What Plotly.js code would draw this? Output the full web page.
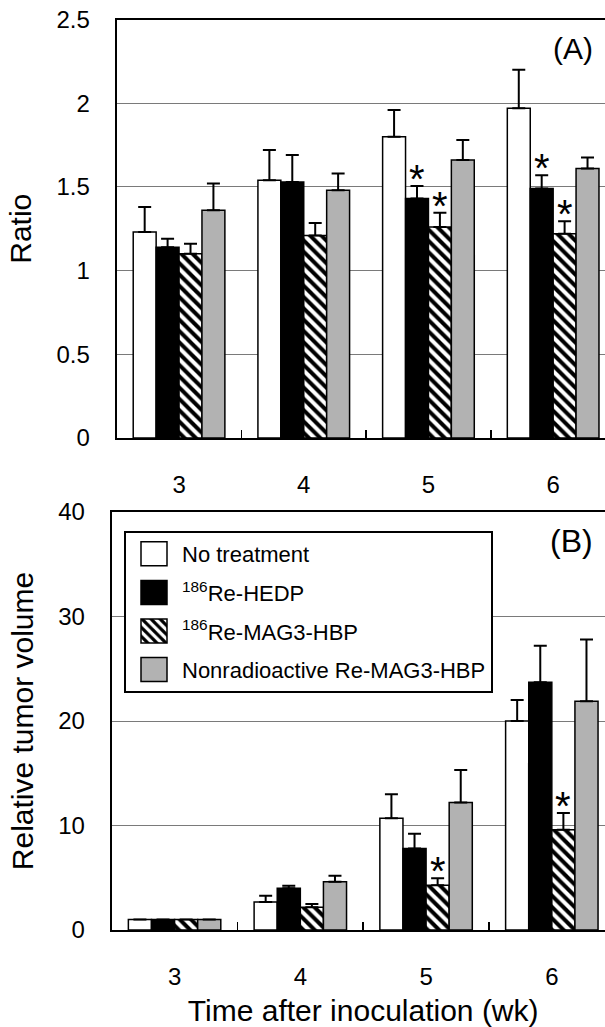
<!DOCTYPE html>
<html><head><meta charset="utf-8">
<script src="https://cdn.plot.ly/plotly-3.0.1.min.js"></script>
<style>html,body{margin:0;padding:0;overflow:hidden;background:#fff;width:605px;height:1027px}#chart{width:620px;height:1027px}</style>
</head><body><div id="chart"></div>
<script>
// Categories (weeks after inoculation)
const weeks = ['3', '4', '5', '6'];
const seriesNames = ['No treatment', '<sup>186</sup>Re-HEDP', '<sup>186</sup>Re-MAG3-HBP', 'Nonradioactive Re-MAG3-HBP'];

// Panel A: Ratio (mean and upper SD)
const ratioNoTreat = [1.23, 1.54, 1.80, 1.97];
const ratioHEDP    = [1.14, 1.53, 1.43, 1.49];
const ratioMAG3    = [1.10, 1.21, 1.26, 1.22];
const ratioNonRad  = [1.36, 1.48, 1.66, 1.61];
const ratioErrNoTreat = [0.15, 0.18, 0.16, 0.23];
const ratioErrHEDP    = [0.05, 0.16, 0.075, 0.08];
const ratioErrMAG3    = [0.06, 0.075, 0.085, 0.075];
const ratioErrNonRad  = [0.16, 0.10, 0.12, 0.065];
// significance markers (*) panel A
const sigRatioHEDP = [false, false, true, true];
const sigRatioMAG3 = [false, false, true, true];

// Panel B: Relative tumor volume
const volNoTreat = [1, 2.68, 10.7, 20.0];
const volHEDP    = [1, 3.99, 7.8, 23.7];
const volMAG3    = [1, 2.17, 4.28, 9.6];
const volNonRad  = [1, 4.62, 12.2, 21.9];
const volErrNoTreat = [0, 0.6, 2.3, 2.0];
const volErrHEDP    = [0, 0.25, 1.4, 3.5];
const volErrMAG3    = [0, 0.32, 0.67, 1.6];
const volErrNonRad  = [0, 0.58, 3.1, 5.9];
// significance markers (*) panel B
const sigVolMAG3 = [false, false, true, true];

const FONT = 'Liberation Sans, Arial, Helvetica, sans-serif';
const W = 620, H = 1027;
const axA = {x0: 116.7, x1: 615.5, y0: 19.5, y1: 438};
const axB = {x0: 111.7, x1: 614.7, y0: 512, y1: 930};
const BARGAP = 0.265;

const styles = [
  {color: 'white'},
  {color: 'black'},
  {color: 'white', pattern: {shape: '\\', fgcolor: 'black', bgcolor: 'white', size: 8, solidity: 0.5, fillmode: 'replace'}},
  {color: '#b2b2b2'}
];

function mkBar(i, vals, errs, xa, ya, showleg) {
  const m = Object.assign({line: {color: 'black', width: 1.5}}, styles[i]);
  return {
    type: 'bar', x: weeks, y: vals, name: seriesNames[i], xaxis: xa, yaxis: ya,
    marker: m, showlegend: showleg, legendgroup: 'g' + i,
    error_y: {type: 'data', array: errs, arrayminus: errs.map(() => 0), symmetric: false,
              color: 'black', thickness: 2, width: 6.5},
    hoverinfo: 'skip'
  };
}

const valsA = [ratioNoTreat, ratioHEDP, ratioMAG3, ratioNonRad];
const errsA = [ratioErrNoTreat, ratioErrHEDP, ratioErrMAG3, ratioErrNonRad];
const valsB = [volNoTreat, volHEDP, volMAG3, volNonRad];
const errsB = [volErrNoTreat, volErrHEDP, volErrMAG3, volErrNonRad];

const data = [];
for (let i = 0; i < 4; i++) data.push(mkBar(i, valsA[i], errsA[i], 'x', 'y', false));
for (let i = 0; i < 4; i++) data.push(mkBar(i, valsB[i], errsB[i], 'x2', 'y2', true));

function barPx(ax) { return (ax.x1 - ax.x0) / weeks.length * (1 - BARGAP) / 4; }

const annotations = [];
function addStars(sig, i, vals, errs, xref, yref, ax) {
  const bw = barPx(ax);
  sig.forEach((s, j) => {
    if (!s) return;
    annotations.push({
      x: j, y: vals[j] + errs[j], xref: xref, yref: yref,
      xshift: (i - 1.5) * bw, yshift: -17, yanchor: 'bottom', xanchor: 'center',
      text: '*', showarrow: false, font: {family: FONT, size: 40, color: 'black'}
    });
  });
}
addStars(sigRatioHEDP, 1, ratioHEDP, ratioErrHEDP, 'x', 'y', axA);
addStars(sigRatioMAG3, 2, ratioMAG3, ratioErrMAG3, 'x', 'y', axA);
addStars(sigVolMAG3, 2, volMAG3, volErrMAG3, 'x2', 'y2', axB);

annotations.push({xref: 'paper', yref: 'paper', x: 595 / W, y: 1 - 49 / H, xanchor: 'right', yanchor: 'middle',
  text: '(A)', showarrow: false, font: {family: FONT, size: 30, color: 'black'}});
annotations.push({xref: 'paper', yref: 'paper', x: 595 / W, y: 1 - 541 / H, xanchor: 'right', yanchor: 'middle',
  text: '(B)', showarrow: false, font: {family: FONT, size: 32, color: 'black'}});

function xAxis(ax, anchor, title) {
  const o = {
    domain: [ax.x0 / W, ax.x1 / W], anchor: anchor, type: 'category', range: [-0.5, 3.5],
    showline: true, linecolor: 'black', linewidth: 2, mirror: true,
    ticks: 'inside', tickson: 'boundaries', ticklen: 8, tickwidth: 1.5, tickcolor: 'black',
    ticklabelstandoff: 24, tickfont: {family: FONT, size: 24, color: 'black'},
    showgrid: false, zeroline: false, automargin: false, fixedrange: true
  };
  if (title) o.title = {text: title, font: {family: FONT, size: 30, color: 'black'}, standoff: 16};
  return o;
}
function yAxis(ax, anchor, range, dtick, title) {
  return {
    domain: [1 - ax.y1 / H, 1 - ax.y0 / H], anchor: anchor, range: range, dtick: dtick,
    showline: true, linecolor: 'black', linewidth: 2, mirror: true,
    ticks: '', ticklabelstandoff: 20, tickfont: {family: FONT, size: 24, color: 'black'},
    showgrid: true, gridcolor: '#7a7a7a', gridwidth: 1, zeroline: false, automargin: false, fixedrange: true,
    title: {text: title, font: {family: FONT, size: 30, color: 'black'}, standoff: 16}
  };
}

const layout = {
  width: W, height: H, margin: {l: 0, r: 0, t: 0, b: 0},
  paper_bgcolor: 'white', plot_bgcolor: 'white',
  font: {family: FONT, color: 'black'},
  barmode: 'group', bargap: BARGAP, bargroupgap: 0,
  xaxis: xAxis(axA, 'y', null),
  yaxis: yAxis(axA, 'x', [0, 2.5], 0.5, 'Ratio'),
  xaxis2: xAxis(axB, 'y2', 'Time after inoculation (wk)'),
  yaxis2: yAxis(axB, 'x2', [0, 40], 10, 'Relative tumor volume'),
  showlegend: true,
  legend: {
    x: 124 / W, y: 1 - 531 / H, xanchor: 'left', yanchor: 'top',
    bgcolor: 'white', bordercolor: 'black', borderwidth: 2,
    font: {family: FONT, size: 22, color: 'black'},
    traceorder: 'grouped', tracegroupgap: 7, itemwidth: 46
  },
  annotations: annotations
};

const gd = document.getElementById('chart');
function bigSwatches() {
  gd.querySelectorAll('.legend .legendpoints path').forEach(function (p) {
    p.setAttribute('d', 'M13,12H-13V-12H13Z');
  });
}
Plotly.newPlot(gd, data, layout, {staticPlot: true, displayModeBar: false}).then(function () {
  bigSwatches();
  if (gd.on) gd.on('plotly_afterplot', bigSwatches);
  setTimeout(bigSwatches, 50);
  setTimeout(bigSwatches, 300);
});
</script>
</body></html>
